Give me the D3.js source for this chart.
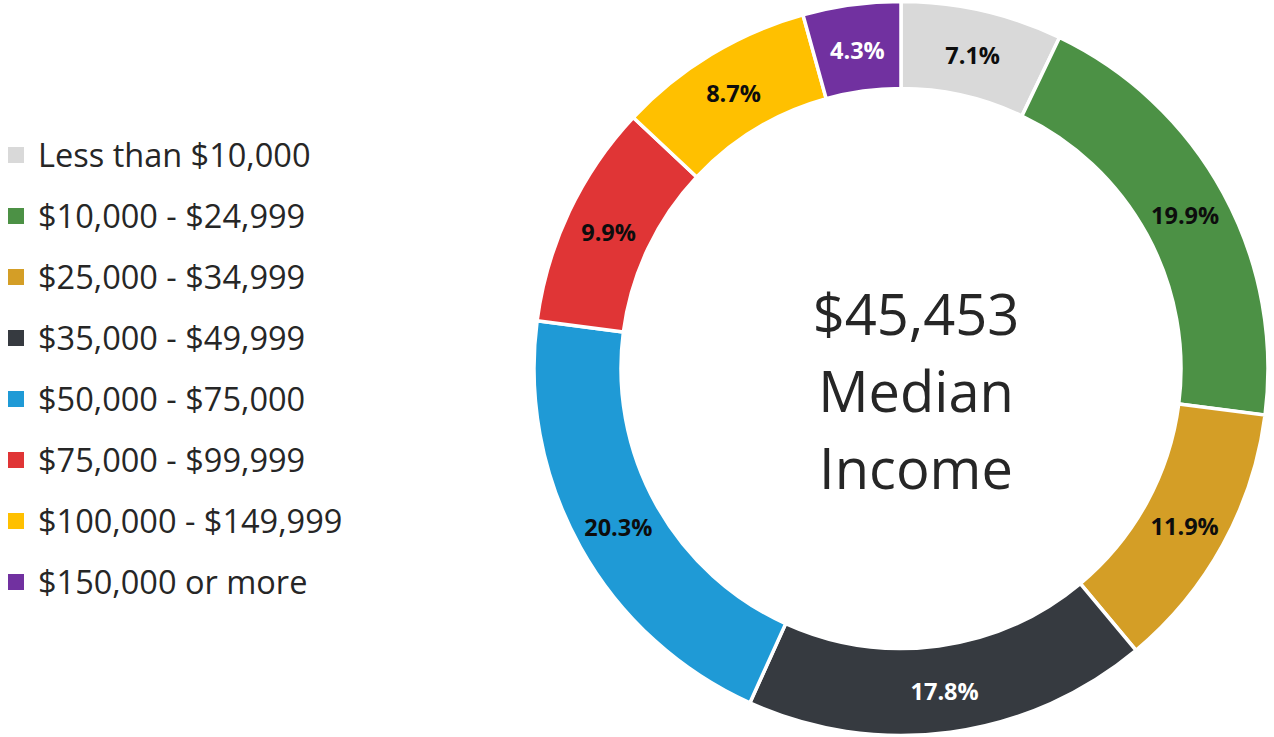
<!DOCTYPE html>
<html>
<head>
<meta charset="utf-8">
<script src="https://cdn.jsdelivr.net/npm/d3@7"></script>
<style>
  html, body { margin: 0; padding: 0; background: #ffffff; }
  svg { display: block; }
  text { font-family: "Open Sans", Lato, "Liberation Sans", sans-serif; }
</style>
</head>
<body>
<svg id="chart" width="1274" height="737"></svg>
<script>
// Household income brackets and their share of households (%)
const categories = [
  "Less than $10,000",
  "$10,000 - $24,999",
  "$25,000 - $34,999",
  "$35,000 - $49,999",
  "$50,000 - $75,000",
  "$75,000 - $99,999",
  "$100,000 - $149,999",
  "$150,000 or more"
];
const shares = [7.1, 19.9, 11.9, 17.8, 20.3, 9.9, 8.7, 4.3];
const colors = ["#d9d9d9", "#4c9145", "#d49e26", "#363a40", "#1f9ad6", "#e03536", "#ffc000", "#7131a0"];
const labelColors = ["#0d0d0d", "#0d0d0d", "#0d0d0d", "#ffffff", "#0d0d0d", "#0d0d0d", "#0d0d0d", "#ffffff"];
const centerLines = ["$45,453", "Median", "Income"];

const svg = d3.select("#chart");
const cx = 901, cy = 368.5;
const outerR = 367, innerR = 280;

const data = categories.map((c, i) => ({ name: c, value: shares[i], color: colors[i], labelColor: labelColors[i] }));

const pie = d3.pie().value(d => d.value).sort(null);
const arc = d3.arc().innerRadius(innerR).outerRadius(outerR);
const labelArc = d3.arc().innerRadius((innerR + outerR) / 2).outerRadius((innerR + outerR) / 2);

const g = svg.append("g").attr("transform", `translate(${cx},${cy})`);
const arcs = pie(data);

g.selectAll("path.slice")
  .data(arcs)
  .join("path")
  .attr("class", "slice")
  .attr("d", arc)
  .attr("fill", d => d.data.color)
  .attr("stroke", "#ffffff")
  .attr("stroke-width", 3.5);

g.selectAll("text.pct")
  .data(arcs)
  .join("text")
  .attr("class", "pct")
  .attr("transform", d => `translate(${labelArc.centroid(d)})`)
  .attr("text-anchor", "middle")
  .attr("dy", "0.45em")
  .attr("font-size", 23.5)
  .attr("font-weight", "bold")
  .attr("fill", d => d.data.labelColor)
  .text(d => d.data.value.toFixed(1) + "%");

// Center annotation, baselines 77px apart
const center = g.append("g").attr("fill", "#262626");
centerLines.forEach((t, i) => {
  center.append("text")
    .attr("x", 15)
    .attr("y", 43.5 + (i - 1) * 77)
    .attr("text-anchor", "middle")
    .attr("font-size", 56)
    .text(t);
});

// Legend
const legend = svg.append("g").attr("transform", "translate(8,155)");
const rows = legend.selectAll("g.row")
  .data(data)
  .join("g")
  .attr("class", "row")
  .attr("transform", (d, i) => `translate(0,${i * 61})`);
rows.append("rect")
  .attr("x", 0).attr("y", -8)
  .attr("width", 16).attr("height", 16)
  .attr("fill", d => d.color);
rows.append("text")
  .attr("x", 30)
  .attr("y", 11.5)
  .attr("font-size", 32.5)
  .attr("fill", "#262626")
  .text(d => d.name);
</script>
</body>
</html>
